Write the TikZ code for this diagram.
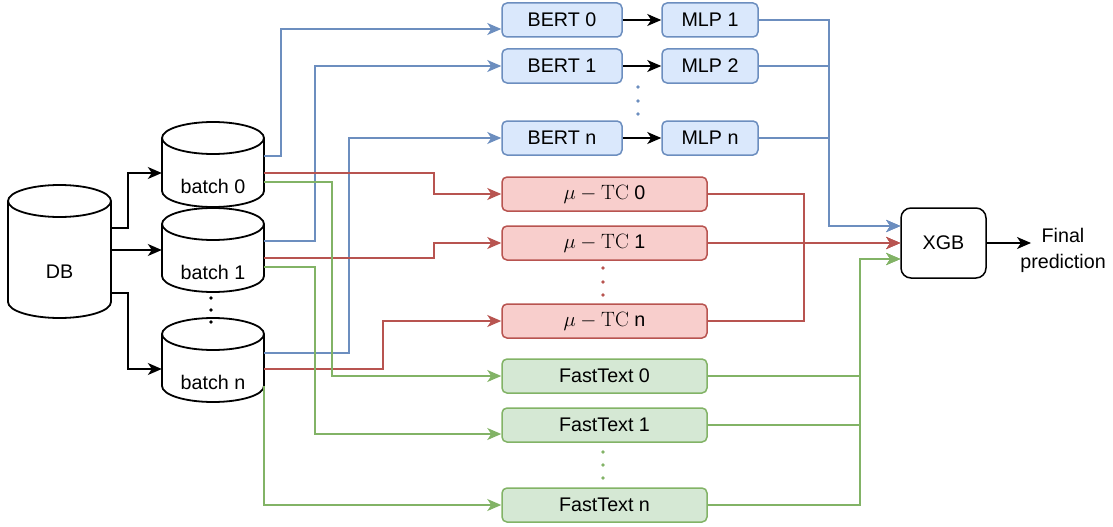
\documentclass[tikz,border=0pt]{standalone}
\usepackage[no-math]{fontspec}
\setmainfont{Liberation Sans}
\usetikzlibrary{arrows.meta}

\definecolor{bluel}{HTML}{6C8EBF}
\definecolor{bluef}{HTML}{DAE8FC}
\definecolor{redl}{HTML}{B85450}
\definecolor{redf}{HTML}{F8CECC}
\definecolor{greenl}{HTML}{82B366}
\definecolor{greenf}{HTML}{D5E8D4}

% storage drum: name, centre x, top y, bottom y, half width, cap radius, label y, label
\newcommand{\drum}[8]{%
  \draw[drumline] ({#2-#5},{#3+#6}) -- ({#2-#5},{#4-#6})
    arc[start angle=180,end angle=360,x radius=#5pt,y radius=#6pt]
    -- ({#2+#5},{#3+#6})
    arc[start angle=0,end angle=180,x radius=#5pt,y radius=#6pt]
    arc[start angle=180,end angle=360,x radius=#5pt,y radius=#6pt];
  \pgfmathsetmacro\drumwd{2*#5}%
  \pgfmathsetmacro\drumht{#4-#3}%
  \node[inner sep=0pt,minimum width=\drumwd pt,minimum height=\drumht pt] (#1) at ({#2},{(#3+#4)/2}) {};
  \node[lbl] (#1-label) at ({#2},{#7}) {#8};
}
\newcommand{\mtc}{{\fontsize{22}{26}\selectfont$\mu-\mathrm{TC}$}}

\begin{document}
\begin{tikzpicture}[x=1pt,y=-1pt,
  txt/.style={font=\fontsize{19.7}{26}\selectfont},
  lbl/.style={txt,inner sep=0pt},
  drumline/.style={draw=black,line width=1.8pt,fill=white},
  box/.style={txt,rounded corners=5pt,line width=1.5pt,minimum height=34pt,inner sep=0pt},
  bertbox/.style={box,draw=bluel,fill=bluef,minimum width=120pt},
  mlpbox/.style={box,draw=bluel,fill=bluef,minimum width=96pt},
  tcbox/.style={box,draw=redl,fill=redf,minimum width=205pt},
  ftbox/.style={box,draw=greenl,fill=greenf,minimum width=205pt},
  xgbbox/.style={txt,draw=black,fill=white,line width=1.5pt,rounded corners=10pt,minimum width=85pt,minimum height=70pt},
  wire/.style={line width=1.5pt,-{Stealth[length=14pt,width=12pt,inset=4pt]}},
  dot/.style={radius=1.9pt}]
\useasboundingbox (0,0) rectangle (1113,527);

% database and its batches
\drum{db}{59.5}{185}{318}{51.5}{16}{272}{DB}
\drum{b0}{213}{122}{207}{51}{16}{186}{batch 0}
\drum{b1}{213}{208}{292}{51}{16}{272}{batch 1}
\drum{bn}{213}{318}{402}{51}{16}{382}{batch n}

% models
\node[bertbox] (bert0) at (562,20) {BERT 0};
\node[bertbox] (bert1) at (562,66) {BERT 1};
\node[bertbox] (bertn) at (562,138) {BERT n};
\node[mlpbox] (mlp1) at (710,20) {MLP 1};
\node[mlpbox] (mlp2) at (710,66) {MLP 2};
\node[mlpbox] (mlpn) at (710,138) {MLP n};
\node[tcbox] (tc0) at (604.5,194) {\mtc\ 0};
\node[tcbox] (tc1) at (604.5,243) {\mtc\ 1};
\node[tcbox] (tcn) at (604.5,321) {\mtc\ n};
\node[ftbox] (ft0) at (604.5,376) {FastText 0};
\node[ftbox] (ft1) at (604.5,425) {FastText 1};
\node[ftbox] (ftn) at (604.5,505) {FastText n};
\node[xgbbox] (xgb) at (943.5,243) {XGB};
\node[lbl,align=center] (final) at (1063,250) {Final\\prediction};
\coordinate (fin) at (1031,243);

% database to batches
\draw[wire] (db.east |- 0,228) -- (128,228) |- (b0.west |- 0,173);
\draw[wire] (db.east |- 0,250) -- (b1.west |- 0,250);
\draw[wire] (db.east |- 0,293) -- (128,293) |- (bn.west |- 0,369);

% batches to BERT
\draw[wire,bluel] (b0.east |- 0,156) -- (281,156) |- (bert0.west |- 0,29);
\draw[wire,bluel] (b1.east |- 0,241) -- (315,241) |- (bert1.west);
\draw[wire,bluel] (bn.east |- 0,353) -- (349,353) |- (bertn.west);

% batches to mu-TC
\draw[wire,redl] (b0.east |- 0,173) -- (434,173) |- (tc0.west);
\draw[wire,redl] (b1.east |- 0,258) -- (434,258) |- (tc1.west);
\draw[wire,redl] (bn.east |- 0,369) -- (383,369) |- (tcn.west);

% batches to FastText
\draw[wire,greenl] (b0.east |- 0,182) -- (332,182) |- (ft0.west);
\draw[wire,greenl] (b1.east |- 0,267) -- (315,267) |- (ft1.west |- 0,434);
\draw[wire,greenl] (bn.east |- 0,386) |- (ftn.west);

% BERT to MLP
\draw[wire] (bert0) -- (mlp1);
\draw[wire] (bert1) -- (mlp2);
\draw[wire] (bertn) -- (mlpn);

% into XGB
\draw[wire,bluel] (mlp1.east) -| (829,226) -- (xgb.west |- 0,226);
\draw[wire,bluel] (mlp2.east) -| (829,226) -- (xgb.west |- 0,226);
\draw[wire,bluel] (mlpn.east) -| (829,226) -- (xgb.west |- 0,226);
\draw[wire,redl] (tc0.east) -| (804,243) -- (xgb.west);
\draw[wire,redl] (tc1.east) -- (xgb.west);
\draw[wire,redl] (tcn.east) -| (804,243) -- (xgb.west);
\draw[wire,greenl] (ft0.east) -| (860,259) -- (xgb.west |- 0,259);
\draw[wire,greenl] (ft1.east) -| (860,259) -- (xgb.west |- 0,259);
\draw[wire,greenl] (ftn.east) -| (860,259) -- (xgb.west |- 0,259);
\draw[wire] (xgb.east) -- (fin);

% ellipses
\fill (211,298) circle[dot] (211,310) circle[dot] (211,322) circle[dot];
\fill[bluel] (638,87) circle[dot] (638,101) circle[dot] (638,114) circle[dot];
\fill[redl] (603,268) circle[dot] (603,282) circle[dot] (603,295) circle[dot];
\fill[greenl] (603,452) circle[dot] (603,465) circle[dot] (603,478) circle[dot];
\end{tikzpicture}
\end{document}
